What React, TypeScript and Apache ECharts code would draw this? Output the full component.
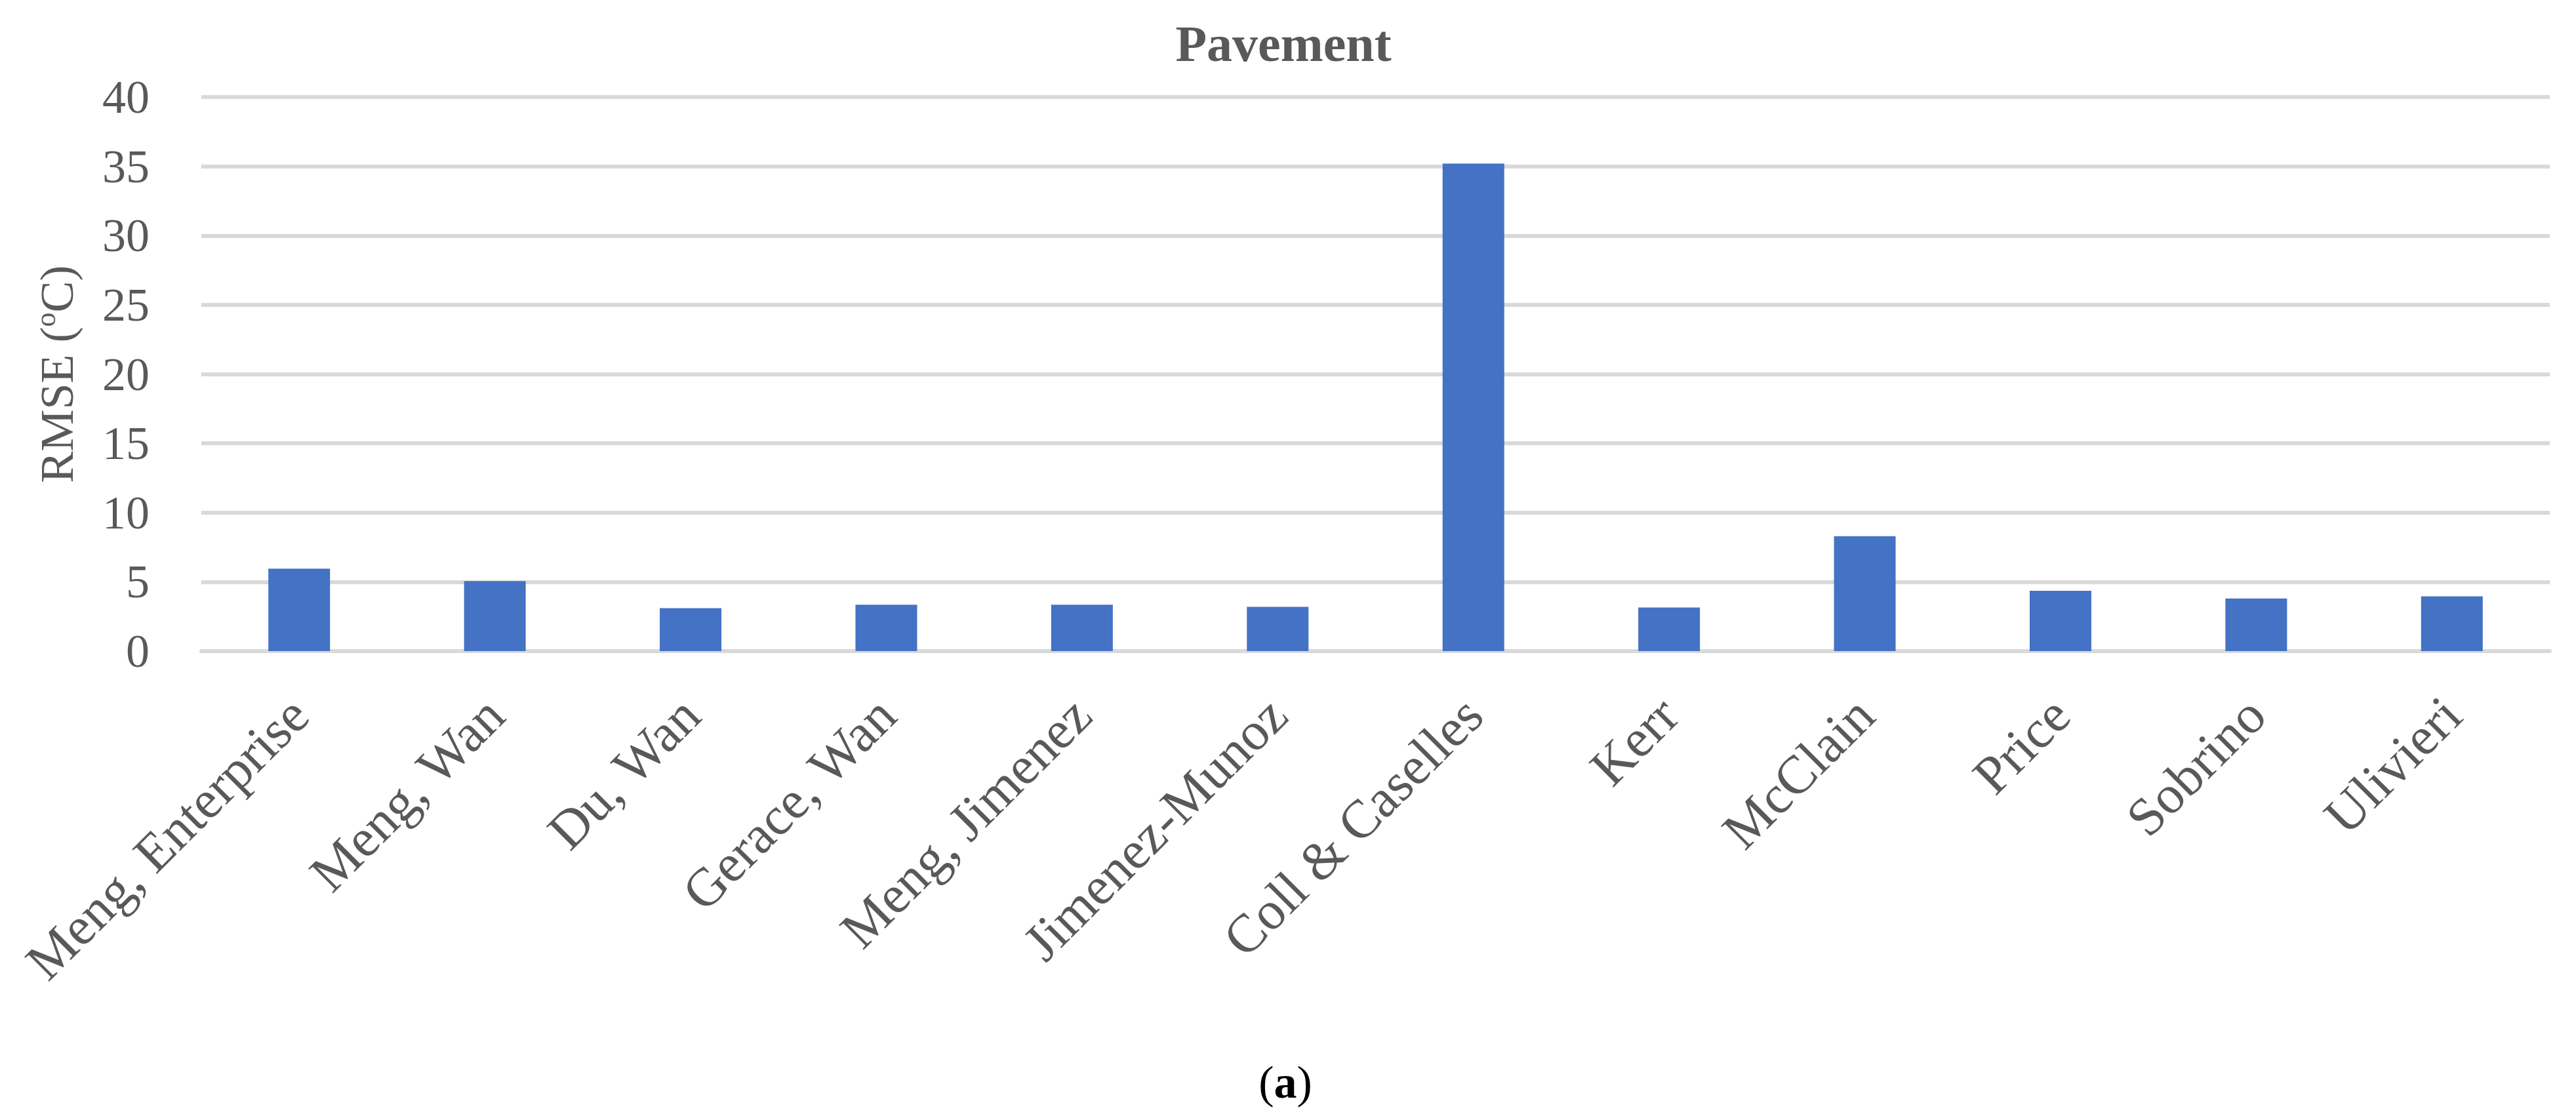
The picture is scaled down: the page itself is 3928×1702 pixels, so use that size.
import React, { useEffect, useRef } from "react";
import * as echarts from "echarts";

const titleText = "Pavement";
const captionLetter = "a";
const yAxisName = "RMSE ({sup|o}C)";
const categories = [
  "Meng, Enterprise",
  "Meng, Wan",
  "Du, Wan",
  "Gerace, Wan",
  "Meng, Jimenez",
  "Jimenez-Munoz",
  "Coll & Caselles",
  "Kerr",
  "McClain",
  "Price",
  "Sobrino",
  "Ulivieri",
];
const rmseValues = [5.95, 5.05, 3.1, 3.35, 3.35, 3.2, 35.2, 3.15, 8.3, 4.35, 3.8, 3.95];
const yMin = 0;
const yMax = 40;
const yInterval = 5;

const FONT = "'Liberation Serif', 'Times New Roman', serif";
const GREY = "#595959";

export default function App() {
  const ref = useRef<HTMLDivElement>(null);
  useEffect(() => {
    if (!ref.current) return;
    const chart = echarts.init(ref.current, undefined, { renderer: "svg" });
    chart.setOption({
      animation: false,
      backgroundColor: "#ffffff",
      title: [
        {
          text: titleText,
          left: 1952,
          top: 22,
          textAlign: "center",
          textStyle: { fontFamily: FONT, fontSize: 78, fontWeight: "bold", color: GREY },
        },
        {
          text: "{p|(}{b|" + captionLetter + "}{p|)}",
          left: 1955,
          top: 1610,
          textAlign: "center",
          textStyle: {
            fontWeight: "normal",
            rich: {
              p: { fontFamily: FONT, fontSize: 70, fontWeight: "normal", color: "#000000" },
              b: { fontFamily: FONT, fontSize: 70, fontWeight: "bold", color: "#000000" },
            },
          },
        },
      ],
      grid: { left: 307, right: 40, top: 148, bottom: 709, containLabel: false },
      xAxis: {
        type: "category",
        data: categories,
        axisLine: { show: true, lineStyle: { color: "#d9d9d9", width: 6 } },
        axisTick: { show: false },
        axisLabel: {
          interval: 0,
          rotate: 45,
          margin: 84,
          padding: [44, 0, 0, 0],
          fontFamily: FONT,
          fontSize: 82,
          color: GREY,
        },
      },
      yAxis: {
        type: "value",
        min: yMin,
        max: yMax,
        interval: yInterval,
        name: yAxisName,
        nameLocation: "middle",
        nameRotate: 90,
        nameGap: 180,
        nameTextStyle: {
          fontFamily: FONT,
          fontSize: 72,
          color: GREY,
          lineHeight: 80,
          rich: {
            sup: { fontFamily: FONT, fontSize: 44, color: GREY, verticalAlign: "top", lineHeight: 80 },
          },
        },
        axisLine: { show: false },
        axisTick: { show: false },
        axisLabel: { margin: 79, fontFamily: FONT, fontSize: 72, color: GREY },
        splitLine: { show: true, lineStyle: { color: "#d9d9d9", width: 6 } },
      },
      series: [
        {
          type: "bar",
          data: rmseValues,
          barWidth: 94,
          itemStyle: { color: "#4472C4" },
        },
      ],
    });
    return () => chart.dispose();
  }, []);
  return (
    <div
      ref={ref}
      style={{ position: "fixed", left: 0, top: 0, width: 3928, height: 1702, background: "#fff" }}
    />
  );
}
